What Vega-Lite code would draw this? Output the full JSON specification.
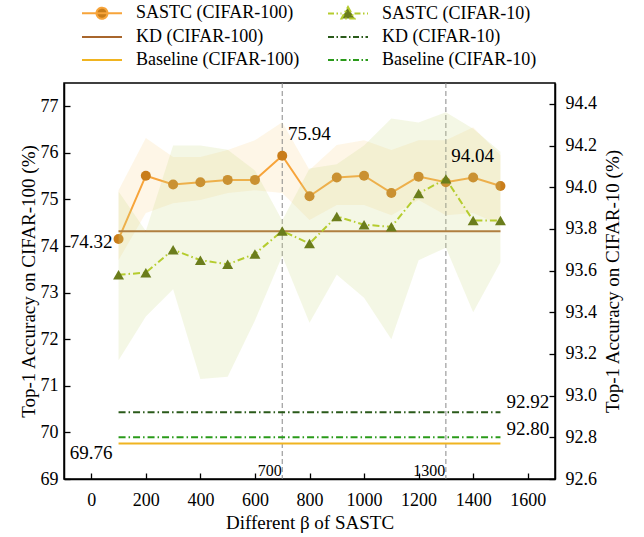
{
  "$schema": "https://vega.github.io/schema/vega-lite/v6.json",
  "width": 491,
  "height": 396,
  "autosize": "none",
  "padding": {"left": 64, "top": 83, "right": 89, "bottom": 58},
  "background": "white",
  "config": {
    "view": {"stroke": "black", "strokeWidth": 1.5},
    "font": "Liberation Serif, Times New Roman, serif",
    "text": {"font": "Liberation Serif, Times New Roman, serif"},
    "legend": {"labelFont": "Liberation Serif, Times New Roman, serif"},
    "axis": {"grid": false, "labelFont": "Liberation Serif, Times New Roman, serif", "labelFontSize": 18, "labelColor": "black", "titleFont": "Liberation Serif, Times New Roman, serif", "titleFontSize": 19, "titleFontWeight": "normal", "titleColor": "black", "domainColor": "black", "domainWidth": 1.5, "tickColor": "black", "tickWidth": 1.3, "labelOverlap": false, "labelFlush": false}
  },
  "datasets": {
    "c100": [
      {"beta": 100, "acc": 74.15, "lo": 73.70, "hi": 75.20},
      {"beta": 200, "acc": 75.51, "lo": 74.71, "hi": 76.32},
      {"beta": 300, "acc": 75.32, "lo": 74.92, "hi": 75.91},
      {"beta": 400, "acc": 75.37, "lo": 74.99, "hi": 75.91},
      {"beta": 500, "acc": 75.42, "lo": 75.14, "hi": 76.06},
      {"beta": 600, "acc": 75.42, "lo": 75.20, "hi": 76.27},
      {"beta": 700, "acc": 75.94, "lo": 75.14, "hi": 76.66},
      {"beta": 800, "acc": 75.07, "lo": 74.56, "hi": 75.63},
      {"beta": 900, "acc": 75.47, "lo": 74.88, "hi": 76.17},
      {"beta": 1000, "acc": 75.51, "lo": 74.88, "hi": 76.27},
      {"beta": 1100, "acc": 75.14, "lo": 74.66, "hi": 76.06},
      {"beta": 1200, "acc": 75.49, "lo": 74.99, "hi": 76.27},
      {"beta": 1300, "acc": 75.37, "lo": 74.66, "hi": 76.27},
      {"beta": 1400, "acc": 75.47, "lo": 74.71, "hi": 76.55},
      {"beta": 1500, "acc": 75.29, "lo": 74.45, "hi": 75.95}
    ],
    "c10": [
      {"beta": 100, "acc": 93.58, "lo": 93.17, "hi": 93.98},
      {"beta": 200, "acc": 93.59, "lo": 93.38, "hi": 93.79},
      {"beta": 300, "acc": 93.70, "lo": 93.51, "hi": 94.20},
      {"beta": 400, "acc": 93.65, "lo": 93.08, "hi": 94.20},
      {"beta": 500, "acc": 93.63, "lo": 93.09, "hi": 94.18},
      {"beta": 600, "acc": 93.68, "lo": 93.36, "hi": 94.08},
      {"beta": 700, "acc": 93.79, "lo": 93.67, "hi": 93.84},
      {"beta": 800, "acc": 93.73, "lo": 93.35, "hi": 94.09},
      {"beta": 900, "acc": 93.86, "lo": 93.58, "hi": 94.11},
      {"beta": 1000, "acc": 93.82, "lo": 93.47, "hi": 94.20},
      {"beta": 1100, "acc": 93.81, "lo": 93.27, "hi": 94.33},
      {"beta": 1200, "acc": 93.97, "lo": 93.65, "hi": 94.31},
      {"beta": 1300, "acc": 94.04, "lo": 93.71, "hi": 94.36},
      {"beta": 1400, "acc": 93.84, "lo": 93.40, "hi": 94.28},
      {"beta": 1500, "acc": 93.84, "lo": 93.64, "hi": 94.17}
    ],
    "refs100": [
      {"series": "KD (CIFAR-100)", "beta": 100, "beta_end": 1500, "value": 74.32},
      {"series": "Baseline (CIFAR-100)", "beta": 100, "beta_end": 1500, "value": 69.76}
    ],
    "refs10": [
      {"series": "KD (CIFAR-10)", "beta": 100, "beta_end": 1500, "value": 92.92},
      {"series": "Baseline (CIFAR-10)", "beta": 100, "beta_end": 1500, "value": 92.80}
    ],
    "vlines": [{"beta": 700}, {"beta": 1300}],
    "notesLeftA": [{"beta": 721, "value": 76.40, "text": "75.94"}],
    "notesLeftB": [
      {"beta": 78, "value": 74.09, "text": "74.32"},
      {"beta": 78, "value": 69.56, "text": "69.76"}
    ],
    "notesSmall": [
      {"beta": 698, "value": 69.18, "text": "700"},
      {"beta": 1298, "value": 69.18, "text": "1300"}
    ],
    "notesRight": [
      {"beta": 1320, "value": 94.15, "text": "94.04"},
      {"beta": 1522, "value": 92.97, "text": "92.92"},
      {"beta": 1522, "value": 92.84, "text": "92.80"}
    ]
  },
  "layer": [
    {
      "layer": [
        {
          "data": {"name": "c100"},
          "mark": {"type": "area", "color": "#fbe0ae", "opacity": 0.3},
          "encoding": {
            "x": {"field": "beta", "type": "quantitative", "scale": {"domain": [-100, 1700], "nice": false, "zero": false},
              "axis": {"title": "Different β of SASTC", "values": [0,100,200,300,400,500,600,700,800,900,1000,1100,1200,1300,1400,1500,1600], "format": "d", "labelExpr": "datum.value % 200 === 0 ? datum.label : ''", "tickSize": {"condition": {"test": "datum.value % 200 === 0", "value": -6}, "value": -3}, "labelPadding": 18, "titlePadding": 4}},
            "y": {"field": "lo", "type": "quantitative", "scale": {"domain": [69, 77.5], "nice": false, "zero": false},
              "axis": {"title": "Top-1 Accuracy on CIFAR-100 (%)", "values": [69,69.5,70,70.5,71,71.5,72,72.5,73,73.5,74,74.5,75,75.5,76,76.5,77], "labelExpr": "datum.value % 1 === 0 ? datum.label : ''", "tickSize": {"condition": {"test": "datum.value % 1 === 0", "value": -6}, "value": -3}, "labelPadding": 12, "titlePadding": 2}},
            "y2": {"field": "hi"}
          }
        },
        {
          "data": {"name": "vlines"},
          "mark": {"type": "rule", "color": "#888888", "strokeDash": [5, 3], "strokeWidth": 1},
          "encoding": {"x": {"field": "beta", "type": "quantitative"}}
        },
        {
          "data": {"name": "c100"},
          "mark": {"type": "line", "strokeWidth": 2},
          "encoding": {
            "x": {"field": "beta", "type": "quantitative"},
            "y": {"field": "acc", "type": "quantitative"},
            "color": {"datum": "SASTC (CIFAR-100)", "type": "nominal"}
          }
        },
        {
          "data": {"name": "c100"},
          "mark": {"type": "point", "filled": true, "shape": "circle", "size": 100, "color": "#c97d1a", "opacity": 1},
          "encoding": {
            "x": {"field": "beta", "type": "quantitative"},
            "y": {"field": "acc", "type": "quantitative"}
          }
        },
        {
          "data": {"name": "refs100"},
          "mark": {"type": "rule", "strokeWidth": 2},
          "encoding": {
            "x": {"field": "beta", "type": "quantitative"},
            "x2": {"field": "beta_end"},
            "y": {"field": "value", "type": "quantitative"},
            "color": {"field": "series", "type": "nominal",
              "scale": {"domain": ["SASTC (CIFAR-100)", "SASTC (CIFAR-10)", "KD (CIFAR-100)", "KD (CIFAR-10)", "Baseline (CIFAR-100)", "Baseline (CIFAR-10)"], "range": ["#f7a43a", "#b5cc2e", "#a8662c", "#2a5a1a", "#f0b420", "#2a9a1a"]},
              "legend": {
                "title": null, "orient": "none", "legendX": 29, "legendY": -79, "columns": 2, "direction": "horizontal",
                "padding": 0, "columnPadding": 24, "rowPadding": 5, "symbolSize": 100, "symbolStrokeWidth": 2, "labelOffset": 25,
                "labelFont": "Liberation Serif, Times New Roman, serif", "labelFontSize": 18, "labelColor": "black", "labelLimit": 300,
                "encode": {"symbols": {"update": {
                  "shape": {"signal": "datum.value === 'SASTC (CIFAR-100)' ? 'M-4,0H4M1.1,0A1.1,1.1,0,1,1,-1.1,0A1.1,1.1,0,1,1,1.1,0Z' : datum.value === 'SASTC (CIFAR-10)' ? 'M-4,0H-1.3M1.3,0H4M0,-1.3L1.3,1L-1.3,1Z' : 'M-4,0H4'"},
                  "fill": {"signal": "datum.value === 'SASTC (CIFAR-100)' ? '#c97d1a' : datum.value === 'SASTC (CIFAR-10)' ? '#6b7d1c' : 'transparent'"},
                  "fillOpacity": {"value": 1},
                  "strokeDash": {"signal": "indexof(datum.value, 'CIFAR-10)') >= 0 ? [6, 2.5, 1.5, 2.5] : [1, 0]"},
                  "strokeWidth": {"value": 2}
                }}}
              }}
          }
        },
        {
          "data": {"name": "notesLeftA"},
          "mark": {"type": "text", "align": "left", "baseline": "middle", "fontSize": 19, "font": "Liberation Serif, Times New Roman, serif", "color": "black"},
          "encoding": {"x": {"field": "beta", "type": "quantitative"}, "y": {"field": "value", "type": "quantitative"}, "text": {"field": "text"}}
        },
        {
          "data": {"name": "notesLeftB"},
          "mark": {"type": "text", "align": "right", "baseline": "middle", "fontSize": 19, "font": "Liberation Serif, Times New Roman, serif", "color": "black"},
          "encoding": {"x": {"field": "beta", "type": "quantitative"}, "y": {"field": "value", "type": "quantitative"}, "text": {"field": "text"}}
        },
        {
          "data": {"name": "notesSmall"},
          "mark": {"type": "text", "align": "right", "baseline": "middle", "fontSize": 16, "font": "Liberation Serif, Times New Roman, serif", "color": "black"},
          "encoding": {"x": {"field": "beta", "type": "quantitative"}, "y": {"field": "value", "type": "quantitative"}, "text": {"field": "text"}}
        }
      ]
    },
    {
      "layer": [
        {
          "data": {"name": "c10"},
          "mark": {"type": "area", "color": "#cfdc8a", "opacity": 0.22},
          "encoding": {
            "x": {"field": "beta", "type": "quantitative"},
            "y": {"field": "lo", "type": "quantitative", "scale": {"domain": [92.6, 94.5], "nice": false, "zero": false},
              "axis": {"orient": "right", "title": "Top-1 Accuracy on CIFAR-10 (%)", "titleAngle": 270, "titleBaseline": "top", "values": [92.6,92.7,92.8,92.9,93.0,93.1,93.2,93.3,93.4,93.5,93.6,93.7,93.8,93.9,94.0,94.1,94.2,94.3,94.4], "labelExpr": "round(datum.value * 10) % 2 === 0 ? format(datum.value, '.1f') : ''", "tickSize": {"condition": {"test": "round(datum.value * 10) % 2 === 0", "value": -6}, "value": -3}, "labelPadding": 16, "titlePadding": 7}},
            "y2": {"field": "hi"}
          }
        },
        {
          "data": {"name": "c10"},
          "mark": {"type": "line", "strokeWidth": 2, "strokeDash": [7, 3, 1.5, 3]},
          "encoding": {
            "x": {"field": "beta", "type": "quantitative"},
            "y": {"field": "acc", "type": "quantitative"},
            "color": {"datum": "SASTC (CIFAR-10)", "type": "nominal"}
          }
        },
        {
          "data": {"name": "c10"},
          "mark": {"type": "point", "filled": true, "shape": "triangle-up", "size": 120, "color": "#6b7d1c", "opacity": 1},
          "encoding": {
            "x": {"field": "beta", "type": "quantitative"},
            "y": {"field": "acc", "type": "quantitative"}
          }
        },
        {
          "data": {"name": "refs10"},
          "mark": {"type": "rule", "strokeWidth": 2, "strokeDash": [7, 3, 1.5, 3]},
          "encoding": {
            "x": {"field": "beta", "type": "quantitative"},
            "x2": {"field": "beta_end"},
            "y": {"field": "value", "type": "quantitative"},
            "color": {"field": "series", "type": "nominal"}
          }
        },
        {
          "data": {"name": "notesRight"},
          "mark": {"type": "text", "align": "left", "baseline": "middle", "fontSize": 19, "font": "Liberation Serif, Times New Roman, serif", "color": "black"},
          "encoding": {"x": {"field": "beta", "type": "quantitative"}, "y": {"field": "value", "type": "quantitative"}, "text": {"field": "text"}}
        }
      ]
    }
  ],
  "resolve": {"scale": {"y": "independent"}, "axis": {"y": "independent"}}
}
